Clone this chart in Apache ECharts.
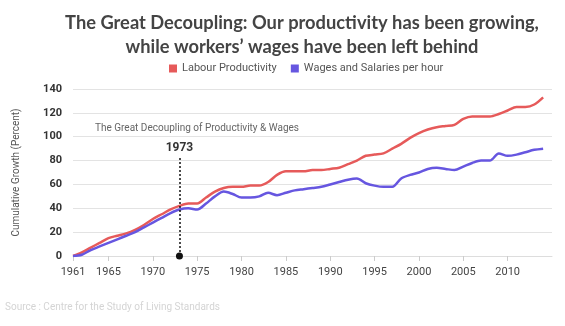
<!DOCTYPE html>
<html>
<head>
<meta charset="utf-8">
<script src="https://cdn.jsdelivr.net/npm/echarts@6/dist/echarts.min.js"></script>
<style>html,body{margin:0;padding:0;background:#fff;}#chart{width:565px;height:326px;}</style>
</head>
<body>
<div id="chart"></div>
<script>
const years = [];
for (let y = 1961; y <= 2014; y++) years.push(y);
const productivity = [0,3,7,11,15,17,19,22,26,31,35,39,42,44,44,49,54,57,58,58,59,59,62,68,71,71,71,72,72,73,74,77,80,84,85,86,90,94,99,103,106,108,109,110,115,117,117,117,119,122,125,125,127,133];
const wages = [0,1,5,8,11,14,17,20,24,28,32,36,39,40,39,44,50,54,52,49,49,50,53,51,53,55,56,57,58,60,62,64,65,61,59,58,58,65,68,70,73,74,73,72,75,78,80,80,86,84,85,87,89,90];
const xTickLabels = [1961,1965,1970,1975,1980,1985,1990,1995,2000,2005,2010];
const markYear = 1973;

const chart = echarts.init(document.getElementById('chart'));
const font = 'Roboto, "Noto Sans", sans-serif';
chart.setOption({
  animation: false,
  backgroundColor: '#fff',
  title: {
    text: 'The Great Decoupling: Our productivity has been growing,\nwhile workers\u2019 wages have been left behind',
    left: 297, top: 6, textAlign: 'center',
    textStyle: {fontFamily: 'Lato, sans-serif', fontWeight: 'bold', fontSize: 18.3, color: '#444', lineHeight: 24, align: 'center'}
  },
  legend: {
    top: 58, left: 164,
    itemWidth: 8, itemHeight: 8, itemGap: 14,
    icon: 'rect',
    textStyle: {fontFamily: font, fontSize: 11, color: '#555'},
    data: ['Labour Productivity', 'Wages and Salaries per hour']
  },
  grid: {left: 73, right: 13, top: 89, bottom: 70},
  xAxis: {
    type: 'value', min: 1961, max: 2015,
    axisLine: {show: true, lineStyle: {color: '#ddd'}},
    axisTick: {show: true, customValues: xTickLabels, length: 5, lineStyle: {color: '#ccc'}},
    axisLabel: {customValues: xTickLabels, color: '#444', fontFamily: font, fontSize: 11, margin: 11, formatter: v => String(v)},
    splitLine: {show: false}
  },
  yAxis: {
    type: 'value', min: 0, max: 140, interval: 20,
    name: 'Cumulative Growth (Percent)', nameLocation: 'middle', nameGap: 52,
    nameTextStyle: {color: '#555', fontFamily: font, fontSize: 10},
    axisLine: {show: false}, axisTick: {show: false},
    axisLabel: {color: '#333', fontFamily: font, fontSize: 11, fontWeight: 'bold', margin: 11},
    splitLine: {lineStyle: {color: '#e3e3e3', width: 1}}
  },
  series: [
    {
      name: 'Labour Productivity', type: 'line', showSymbol: false, smooth: 0.3,
      color: '#e65a5a', lineStyle: {width: 2.5},
      data: years.map((y, i) => [y, productivity[i]]),
      markLine: {
        silent: true, symbol: ['none', 'none'],
        lineStyle: {color: '#111', type: [2, 2], width: 1.5},
        label: {show: true, position: 'end', formatter: String(markYear), color: '#333', fontFamily: font, fontWeight: 'bold', fontSize: 12, distance: 3},
        data: [[{coord: [markYear, 0]}, {coord: [markYear, 83]}]]
      },
      markPoint: {
        silent: true, symbol: 'circle', symbolSize: 7,
        itemStyle: {color: '#111'}, label: {show: false},
        data: [{coord: [markYear, 0]}]
      }
    },
    {
      name: 'Wages and Salaries per hour', type: 'line', showSymbol: false, smooth: 0.3,
      color: '#6656e0', lineStyle: {width: 2.5},
      data: years.map((y, i) => [y, wages[i]])
    }
  ],
  graphic: [
    {type: 'text', left: 95, top: 123, style: {text: 'The Great Decoupling of Productivity & Wages', fill: '#666', font: '10px Roboto, sans-serif'}},
    {type: 'text', left: 5, top: 302, style: {text: 'Source : Centre for the Study of Living Standards', fill: '#d4d4d4', font: '10px Roboto, sans-serif'}}
  ]
});
</script>
</body>
</html>
